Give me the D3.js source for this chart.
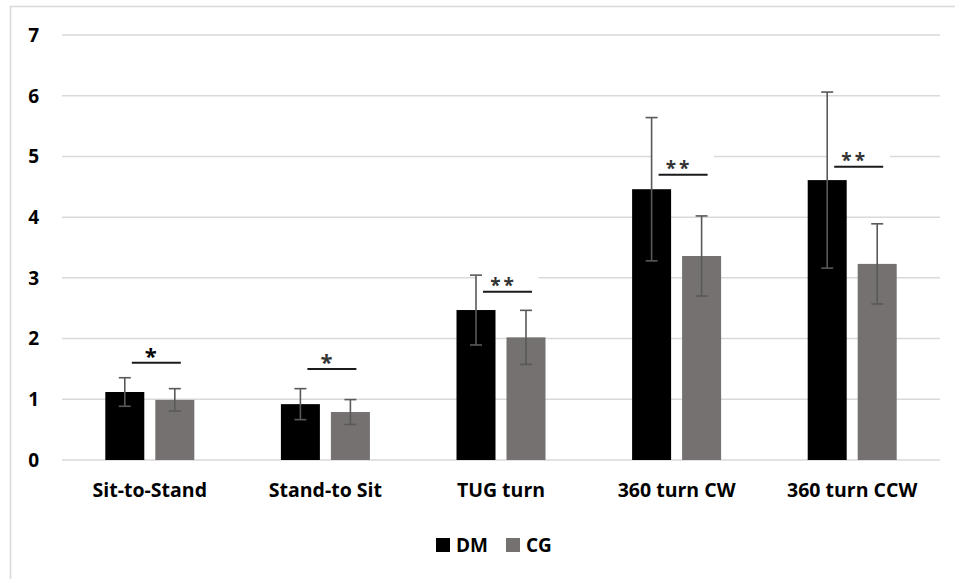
<!DOCTYPE html>
<html>
<head>
<meta charset="utf-8">
<script src="https://cdn.jsdelivr.net/npm/d3@7"></script>
<style>
  body { margin: 0; background: #fff; }
  text { font-family: "Open Sans", sans-serif; font-weight: bold; fill: #000; }
</style>
</head>
<body>
<div id="container"></div>
<script>
const categories = ["Sit-to-Stand", "Stand-to Sit", "TUG turn", "360 turn CW", "360 turn CCW"]
const dmMean = [1.12, 0.92, 2.47, 4.46, 4.61]
const dmSd = [0.235, 0.255, 0.575, 1.18, 1.45]
const cgMean = [0.99, 0.79, 2.02, 3.36, 3.23]
const cgSd = [0.185, 0.205, 0.445, 0.66, 0.66]
const sigLabels = ["*", "*", "**", "**", "**"]
const sigLevel = [1.6, 1.5, 2.77, 4.7, 4.83]
const yTicks = [0, 1, 2, 3, 4, 5, 6, 7]
const seriesNames = ["DM", "CG"]
const seriesColors = ["#000000", "#767171"]

const width = 955, height = 579
const margin = {top: 35, right: 15, bottom: 119, left: 62}

const svg = d3.select("#container").append("svg")
    .attr("width", width)
    .attr("height", height)

// chart frame
svg.append("rect")
    .attr("x", 10.5).attr("y", 6.5)
    .attr("width", 960).attr("height", 600)
    .attr("fill", "#fff")
    .attr("stroke", "#d9d9d9")
    .attr("stroke-width", 1.5)

const x = d3.scaleBand()
    .domain(categories)
    .range([margin.left, width - margin.right])

const y = d3.scaleLinear()
    .domain([0, 7])
    .range([height - margin.bottom, margin.top])

const barW = 39, gap = 11
const color = d3.scaleOrdinal().domain(seriesNames).range(seriesColors)

// gridlines
svg.append("g")
    .selectAll("line")
    .data(yTicks)
    .join("line")
    .attr("x1", margin.left).attr("x2", width - margin.right)
    .attr("y1", d => y(d)).attr("y2", d => y(d))
    .attr("stroke", "#d9d9d9")
    .attr("stroke-width", 1.5)

// y labels
svg.append("g")
    .selectAll("text")
    .data(yTicks)
    .join("text")
    .attr("x", 39)
    .attr("y", d => y(d))
    .attr("dy", "0.36em")
    .attr("text-anchor", "end")
    .attr("font-size", 19)
    .text(d => d)

const cx = c => x(c) + x.bandwidth() / 2
const lineX0 = i => cx(categories[i]) - gap / 2 - barW / 2 + 7
const lineX1 = i => cx(categories[i]) + gap / 2 + barW / 2 + 6

// white label boxes behind the significance marks
svg.append("g")
    .selectAll("rect")
    .data(categories.filter((c, i) => sigLabels[i].length > 1))
    .join("rect")
    .attr("x", c => (lineX0(categories.indexOf(c)) + lineX1(categories.indexOf(c))) / 2 - 31)
    .attr("y", c => y(sigLevel[categories.indexOf(c)]) - 24)
    .attr("width", 62)
    .attr("height", 22)
    .attr("fill", "#fff")

const rows = []
categories.forEach((c, i) => {
    rows.push({cat: c, s: "DM", mean: dmMean[i], sd: dmSd[i], x: cx(c) - gap / 2 - barW})
    rows.push({cat: c, s: "CG", mean: cgMean[i], sd: cgSd[i], x: cx(c) + gap / 2})
})

svg.append("g")
    .selectAll("rect")
    .data(rows)
    .join("rect")
    .attr("x", d => d.x)
    .attr("y", d => y(d.mean))
    .attr("width", barW)
    .attr("height", d => y(0) - y(d.mean))
    .attr("fill", d => color(d.s))

// error bars
const err = svg.append("g")
    .attr("stroke", "#595959")
    .attr("stroke-width", 1.6)
    .selectAll("g")
    .data(rows)
    .join("g")
    .attr("transform", d => `translate(${d.x + barW / 2},0)`)
err.append("line")
    .attr("y1", d => y(d.mean + d.sd)).attr("y2", d => y(d.mean - d.sd))
err.append("line")
    .attr("x1", -6).attr("x2", 6)
    .attr("y1", d => y(d.mean + d.sd)).attr("y2", d => y(d.mean + d.sd))
err.append("line")
    .attr("x1", -6).attr("x2", 6)
    .attr("y1", d => y(d.mean - d.sd)).attr("y2", d => y(d.mean - d.sd))

// significance lines and stars
const sig = svg.append("g")
    .selectAll("g")
    .data(categories)
    .join("g")
sig.append("line")
    .attr("x1", (c, i) => lineX0(i))
    .attr("x2", (c, i) => lineX1(i))
    .attr("y1", (c, i) => y(sigLevel[i]))
    .attr("y2", (c, i) => y(sigLevel[i]))
    .attr("stroke", "#1a1a1a")
    .attr("stroke-width", 2)
sig.append("text")
    .attr("x", (c, i) => (lineX0(i) + lineX1(i)) / 2 - 4)
    .attr("y", (c, i) => y(sigLevel[i]) + (sigLabels[i].length > 1 ? 0 : 1))
    .attr("text-anchor", "middle")
    .attr("font-size", (c, i) => sigLabels[i].length > 1 ? 19 : 22)
    .attr("letter-spacing", 3)
    .style("fill", (c, i) => i === 0 ? "#000" : "#333")
    .text((c, i) => sigLabels[i])

// category labels
svg.append("g")
    .selectAll("text")
    .data(categories)
    .join("text")
    .attr("x", c => cx(c))
    .attr("y", 497)
    .attr("text-anchor", "middle")
    .attr("font-size", 19.5)
    .text(c => c)

// legend
const legend = svg.append("g")
    .selectAll("g")
    .data(seriesNames)
    .join("g")
    .attr("transform", (d, i) => `translate(${436 + i * 70},538)`)
legend.append("rect")
    .attr("width", 14).attr("height", 14)
    .attr("fill", d => color(d))
legend.append("text")
    .attr("x", 20).attr("y", 7)
    .attr("dy", "0.36em")
    .attr("font-size", 19)
    .text(d => d)
</script>
</body>
</html>
